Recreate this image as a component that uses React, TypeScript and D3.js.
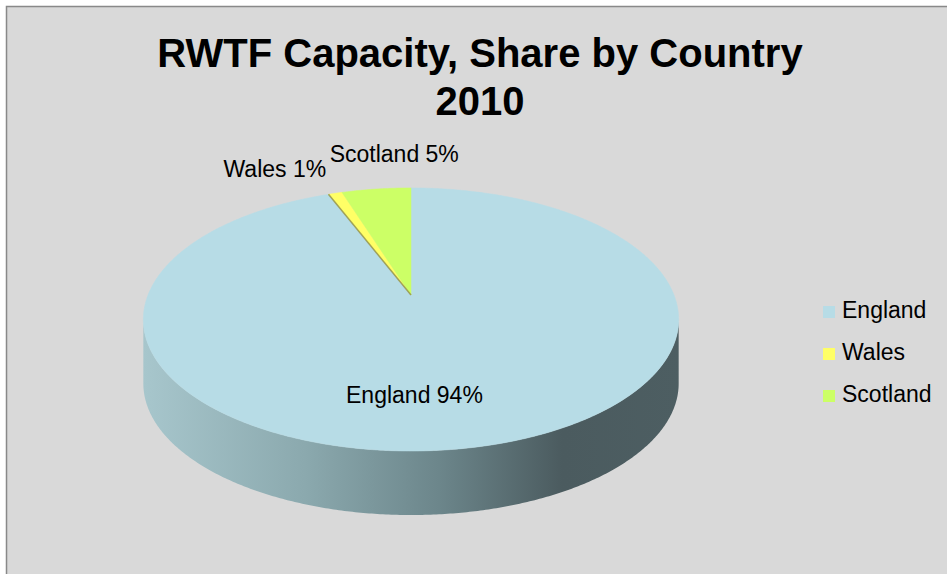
import React from 'react';
import * as d3 from 'd3';

// ---- data ----
const categories = ['England', 'Wales', 'Scotland'];
const values = [94, 1, 5];
const colors = ['#b7dce6', '#ffff66', '#ccff66'];
const titleLines = ['RWTF Capacity, Share by Country', '2010'];

// ---- layout ----
const W = 947;
const H = 574;
const CX = 411;
const CY = 295;
const A = 263;
const B = 127;
const E = 0.186;
const DEPTH = 64;
const FONT = '"Liberation Sans", Arial, Helvetica, sans-serif';

function proj(phi: number, r = 1, dy = 0): [number, number] {
  const c = Math.sin(phi) * r;
  const s = -Math.cos(phi) * r;
  const den = 1 - E * s;
  return [CX + (A * c) / den, CY + (B * s) / den + dy];
}

function arcPoints(a0: number, a1: number, dy = 0): [number, number][] {
  const steps = Math.max(2, Math.ceil(Math.abs(a1 - a0) / (Math.PI / 360)));
  return d3.range(steps + 1).map((i) => proj(a0 + ((a1 - a0) * i) / steps, 1, dy));
}

const line = d3.line<[number, number]>().curve(d3.curveLinear);

// label nudges relative to projected anchor (layout only)
const labelLayout: Record<string, { r: number; dx: number; dy: number; anchor: string }> = {
  England: { r: 0.62, dx: -31, dy: 21, anchor: 'middle' },
  Wales: { r: 1, dx: -9, dy: -16, anchor: 'end' },
  Scotland: { r: 1, dx: 18, dy: -27, anchor: 'middle' },
};

export default function App() {
  const pie = d3.pie<number>().sort(null).value((d) => d);
  const arcs = pie(values);
  const total = d3.sum(values);

  const phiR = Math.acos(-E);
  const phiL = 2 * Math.PI - phiR;

  const sides = arcs
    .map((a, i) => {
      const s0 = Math.max(a.startAngle, phiR);
      const s1 = Math.min(a.endAngle, phiL);
      if (s1 <= s0) return null;
      const top = arcPoints(s0, s1);
      const bot = arcPoints(s1, s0, DEPTH);
      return { i, d: line([...top, ...bot]) + 'Z' };
    })
    .filter(Boolean) as { i: number; d: string }[];

  const legendY = d3.scalePoint<string>().domain(categories).range([318, 402]);

  return (
    <svg
      width={W}
      height={H}
      style={{ position: 'absolute', left: 0, top: 0, display: 'block' }}
      xmlns="http://www.w3.org/2000/svg"
    >
      <defs>
        <linearGradient id="side0" gradientUnits="userSpaceOnUse" x1={144} y1={0} x2={680} y2={0}>
          <stop offset="0" stopColor="#a7c6cc" />
          <stop offset="0.3" stopColor="#8ba9ae" />
          <stop offset="0.55" stopColor="#6c868b" />
          <stop offset="0.78" stopColor="#4b5b5f" />
          <stop offset="1" stopColor="#4d5e62" />
        </linearGradient>
      </defs>
      <rect x={0} y={0} width={W} height={H} fill="#ffffff" />
      <rect x={6.5} y={6.5} width={W + 20} height={H + 20} fill="#d9d9d9" stroke="#898989" strokeWidth={1.5} />

      {titleLines.map((t, i) => (
        <text
          key={i}
          x={480}
          y={67 + i * 48}
          textAnchor="middle"
          fontFamily={FONT}
          fontWeight="bold"
          fontSize={40}
          fill="#000"
        >
          {t}
        </text>
      ))}

      {sides.map((s) => (
        <path key={'side' + s.i} d={s.d} fill={s.i === 0 ? 'url(#side0)' : colors[s.i]} />
      ))}

      {arcs.map((a, i) => {
        const pts = [[CX, CY] as [number, number], ...arcPoints(a.startAngle, a.endAngle)];
        return <path key={'slice' + i} d={line(pts) + 'Z'} fill={colors[i]} stroke={colors[i]} strokeWidth={0.5} />;
      })}

      {arcs.map((a, i) => {
        if (i === 0) return null;
        const [x, y] = proj(a.startAngle);
        return i === 1 ? (
          <line key={'edge' + i} x1={CX} y1={CY} x2={x} y2={y} stroke="#8f8f4c" strokeWidth={1.5} opacity={0.8} />
        ) : null;
      })}

      {arcs.map((a, i) => {
        const cat = categories[i];
        const L = labelLayout[cat];
        const mid = (a.startAngle + a.endAngle) / 2;
        const [x, y] = proj(mid, L.r);
        const pct = Math.round((values[i] / total) * 100);
        return (
          <text
            key={'lab' + i}
            x={x + L.dx}
            y={y + L.dy}
            textAnchor={L.anchor as any}
            fontFamily={FONT}
            fontSize={23}
            fill="#000"
          >
            {`${cat} ${pct}%`}
          </text>
        );
      })}

      {categories.map((c, i) => {
        const y = legendY(c) as number;
        return (
          <g key={'leg' + i}>
            <rect x={823} y={y - 12} width={12} height={12} fill={colors[i]} />
            <text x={842} y={y} fontFamily={FONT} fontSize={23} fill="#000">
              {c}
            </text>
          </g>
        );
      })}
    </svg>
  );
}
